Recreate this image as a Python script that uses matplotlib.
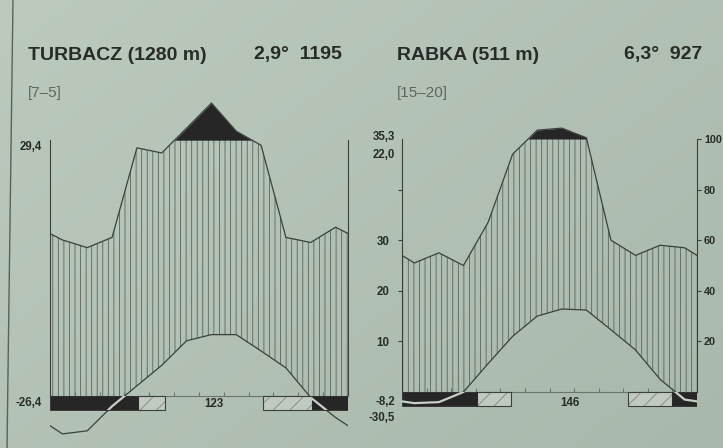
import numpy as np
import matplotlib
matplotlib.use("Agg")
import matplotlib.pyplot as plt
from matplotlib import font_manager
from matplotlib.patches import Rectangle
from matplotlib.lines import Line2D

# --- data (months Jan..Dec) ---
turbacz_temp = [-7.4, -6.8, -2.0, 2.0, 6.0, 10.8, 12.0, 12.0, 8.8, 5.5, -0.3, -4.2]
turbacz_prec = [61, 58, 62, 97, 95, 147, 245, 135, 98, 62, 60, 66]
turbacz_sure_frost = [(0.0, 3.53), (10.56, 12.0)]
turbacz_prob_frost = [(3.53, 4.62), (8.59, 10.56)]

rabka_temp = [-2.2, -2.0, 0.0, 5.6, 11.0, 15.0, 16.4, 16.2, 12.3, 8.3, 2.5, -1.5]
rabka_prec = [51, 55, 50, 67, 94, 135, 143, 105, 60, 54, 58, 57]
rabka_sure_frost = [(0.0, 3.05), (11.0, 12.0)]
rabka_prob_frost = [(3.05, 4.43), (9.2, 11.0)]

titles = ["TURBACZ (1280 m)", "RABKA (511 m)"]
stats = ["2,9°  1195", "6,3°  927"]
periods = ["[7–5]", "[15–20]"]
max_labels = [["29,4"], ["35,3", "22,0"]]
min_labels = [["-26,4"], ["-8,2", "-30,5"]]
frost_free = ["123", "146"]

BG = "#b2c0b3"
INK = "#272c28"
GREY = "#5d665f"
BLACK = "#262626"
HATCH = "#5a645d"
LINE = "#3a413c"

names = {f.name for f in font_manager.fontManager.ttflist}
if "Liberation Sans Narrow" in names:
    FONT, TSIZE, LSIZE = "Liberation Sans Narrow", 17, 9.5
else:
    FONT, TSIZE, LSIZE = "Liberation Sans", 14, 8.3
plt.rcParams["hatch.linewidth"] = 0.6


def scale_prec(p):
    p = np.asarray(p, float)
    return np.where(p <= 100, p / 2, 50 + (p - 100) / 20)


def draw_panel(ax, temp, prec, sure, prob, show_ticks):
    x = np.concatenate([[0], np.arange(12) + 0.5, [12]])
    t = np.concatenate([[(temp[0] + temp[-1]) / 2], temp, [(temp[0] + temp[-1]) / 2]])
    p = np.concatenate([[(prec[0] + prec[-1]) / 2], prec, [(prec[0] + prec[-1]) / 2]])
    ps = scale_prec(p)

    xf = np.linspace(0, 12, 1201)
    tf = np.interp(xf, x, t)
    pf = np.interp(xf, x, ps)

    ax.fill_between(xf, np.maximum(tf, 0), np.minimum(pf, 50), where=pf > tf,
                    facecolor="none", edgecolor=HATCH, hatch="|||", linewidth=0, zorder=1)
    ax.fill_between(xf, 50, pf, where=pf > 50, interpolate=True, color=BLACK,
                    linewidth=0, zorder=2)
    ax.plot(x, ps, color=LINE, lw=0.9, zorder=3)
    ax.plot(x, t, color=LINE, lw=0.9, zorder=3)

    h = 2.8
    for a, b in prob:
        ax.add_patch(Rectangle((a, -h), b - a, h, facecolor="#c0cac0", edgecolor="#7d877f",
                               hatch="//", linewidth=0, zorder=3))
        ax.add_patch(Rectangle((a, -h), b - a, h, facecolor="none", edgecolor=LINE,
                               linewidth=0.8, zorder=4))
    for a, b in sure:
        r = Rectangle((a, -h), b - a, h, facecolor=BLACK, edgecolor=BLACK,
                      linewidth=0.5, zorder=4)
        ax.add_patch(r)
        light, = ax.plot(x, t, color="#c8d0c6", lw=1.6, zorder=5)
        light.set_clip_path(r)

    ax.set_xlim(0, 12)
    ax.set_ylim(-10, 60)
    ax.set_facecolor("none")
    ax.spines["top"].set_visible(False)
    ax.spines["bottom"].set_position(("data", 0))
    ax.spines["bottom"].set_color("#6b746d")
    ax.spines["bottom"].set_linewidth(0.8)
    for s in ("left", "right"):
        ax.spines[s].set_bounds(0, 50)
        ax.spines[s].set_color(LINE)
        ax.spines[s].set_linewidth(0.8)
    ax.set_xticks(np.arange(1, 12))
    ax.set_xticklabels([])
    ax.tick_params(axis="x", direction="in", length=3, color="#6b746d")
    if not show_ticks:
        ax.set_yticks([])


fig = plt.figure(figsize=(7.23, 4.48), dpi=100, facecolor=BG)

# soft light fall-off of the photographed page
bg = fig.add_axes([0, 0, 1, 1], zorder=-10)
gy, gx = np.mgrid[0:1:100j, 0:1:160j]
shade = 0.55 * gx + 0.45 * gy
bg.imshow(shade, cmap=matplotlib.colors.LinearSegmentedColormap.from_list(
    "page", ["#bccabe", "#a9b8ac"]), aspect="auto", extent=[0, 1, 0, 1],
    origin="upper", interpolation="bilinear")
bg.set_axis_off()

axL = fig.add_axes([50 / 723, (448 - 447.2) / 448, 298 / 723, (447.2 - 89.0) / 448])
draw_panel(axL, turbacz_temp, turbacz_prec, turbacz_sure_frost, turbacz_prob_frost, False)

axR = fig.add_axes([402 / 723, (448 - 442.6) / 448, 295 / 723, (442.6 - 88.4) / 448])
draw_panel(axR, rabka_temp, rabka_prec, rabka_sure_frost, rabka_prob_frost, True)
axR.spines["right"].set_visible(False)
axR.set_yticks([10, 20, 30, 40])
axR.set_yticklabels(["10", "20", "30", ""])
axR.tick_params(axis="y", direction="out", length=3, pad=6, color=LINE, labelcolor=INK)
for lab in axR.get_yticklabels():
    lab.set_fontfamily(FONT)
    lab.set_fontweight("bold")
    lab.set_fontsize(LSIZE)

axR2 = axR.twinx()
axR2.set_ylim(-10, 60)
for s in ("left", "top", "bottom"):
    axR2.spines[s].set_visible(False)
axR2.spines["right"].set_bounds(0, 50)
axR2.spines["right"].set_color(LINE)
axR2.spines["right"].set_linewidth(0.8)
axR2.set_yticks([10, 20, 30, 40, 50])
axR2.set_yticklabels(["20", "40", "60", "80", "100"])
axR2.tick_params(axis="y", direction="out", length=3, pad=2, color=LINE, labelcolor=INK)
for lab in axR2.get_yticklabels():
    lab.set_fontfamily(FONT)
    lab.set_fontweight("bold")
    lab.set_fontsize(LSIZE if FONT.endswith("Narrow") else 7.8)

lab_kw = dict(family=FONT, weight="bold", size=LSIZE, color=INK, ha="right", va="center")
axL.text(-0.32, 48.6, max_labels[0][0], **lab_kw)
axL.text(-0.32, -1.4, min_labels[0][0], **lab_kw)
axL.text(6.6, -1.6, frost_free[0], family=FONT, weight="bold", size=LSIZE, color=INK,
         ha="center", va="center")
axR.text(-0.28, 50.4, max_labels[1][0], **lab_kw)
axR.text(-0.28, 46.8, max_labels[1][1], **lab_kw)
axR.text(-0.28, -2.0, min_labels[1][0], **lab_kw)
axR.text(-0.28, -5.1, min_labels[1][1], **lab_kw)
axR.text(6.83, -2.2, frost_free[1], family=FONT, weight="bold", size=LSIZE, color=INK,
         ha="center", va="center")

# headers
fig.text(28 / 723, 1 - 55 / 448, titles[0], family=FONT, weight="bold", size=TSIZE,
         color=INK, va="center")
fig.text(342 / 723, 1 - 55 / 448, stats[0], family=FONT, weight="bold", size=TSIZE,
         color=INK, va="center", ha="right")
fig.text(28 / 723, 1 - 93 / 448, periods[0], family="Liberation Sans", size=11,
         color=GREY, va="center")
fig.text(397 / 723, 1 - 55 / 448, titles[1], family=FONT, weight="bold", size=TSIZE,
         color=INK, va="center")
fig.text(702 / 723, 1 - 55 / 448, stats[1], family=FONT, weight="bold", size=TSIZE,
         color=INK, va="center", ha="right")
fig.text(397 / 723, 1 - 93 / 448, periods[1], family="Liberation Sans", size=11,
         color=GREY, va="center")

# page edge line in the photo
fig.add_artist(Line2D([13 / 723, 7 / 723], [1, 0], color="#59625b", lw=1.0))

fig.savefig("out.png", dpi=100, facecolor=BG)
